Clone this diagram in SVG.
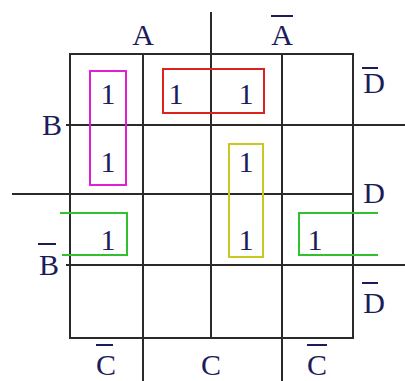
<svg xmlns="http://www.w3.org/2000/svg" width="405" height="381" viewBox="0 0 405 381">
<style>
.g{stroke:#2a2a2a;stroke-width:2;fill:none}
.t{font-family:"Liberation Serif",serif;font-size:30px;fill:#1c1c5a;text-anchor:middle}
.bar{stroke:#1c1c5a;stroke-width:2}
.grp{fill:none;stroke-width:2}
</style>
<rect width="405" height="381" fill="#fff"/>
<g id="grid">
<rect class="g" x="70" y="54" width="283" height="284"/>
<line class="g" x1="143" y1="54" x2="143" y2="381"/>
<line class="g" x1="282" y1="54" x2="282" y2="381"/>
<line class="g" x1="211" y1="12" x2="211" y2="338"/>
<line class="g" x1="66" y1="125" x2="405" y2="125"/>
<line class="g" x1="12" y1="194" x2="353" y2="194"/>
<line class="g" x1="66" y1="265" x2="405" y2="265"/>
</g>
<g id="labels">
<text class="t" x="143" y="45">A</text>
<text class="t" x="282" y="45">A</text><line class="bar" x1="271" y1="16" x2="293" y2="16"/>
<text class="t" x="52" y="135">B</text>
<text class="t" x="49" y="275">B</text><line class="bar" x1="38" y1="244" x2="56" y2="244"/>
<text class="t" x="374" y="93">D</text><line class="bar" x1="362" y1="68" x2="378" y2="68"/>
<text class="t" x="374" y="203">D</text>
<text class="t" x="374" y="313">D</text><line class="bar" x1="362" y1="283" x2="378" y2="283"/>
<text class="t" x="106" y="375">C</text><line class="bar" x1="96" y1="345" x2="113" y2="345"/>
<text class="t" x="211" y="375">C</text>
<text class="t" x="317" y="375">C</text><line class="bar" x1="307" y1="345" x2="327" y2="345"/>
</g>
<g id="cells">
<text class="t" x="108" y="104">1</text>
<text class="t" x="176" y="104">1</text>
<text class="t" x="246" y="104">1</text>
<text class="t" x="108" y="172">1</text>
<text class="t" x="246" y="172">1</text>
<text class="t" x="108" y="250">1</text>
<text class="t" x="246" y="250">1</text>
<text class="t" x="315" y="250">1</text>
</g>
<g id="groups">
<rect id="magenta" class="grp" stroke="#e020d0" x="90" y="71" width="36" height="114"/>
<rect id="red" class="grp" stroke="#dd2020" x="163" y="69" width="101" height="44"/>
<rect id="yellow" class="grp" stroke="#c8c820" x="229" y="144" width="34" height="113"/>
<polyline id="green-left" class="grp" stroke="#30c030" points="60,213 127,213 127,255 62,255"/>
<polyline id="green-right" class="grp" stroke="#30c030" points="378,213 299,213 299,255 378,255"/>
</g>
</svg>
